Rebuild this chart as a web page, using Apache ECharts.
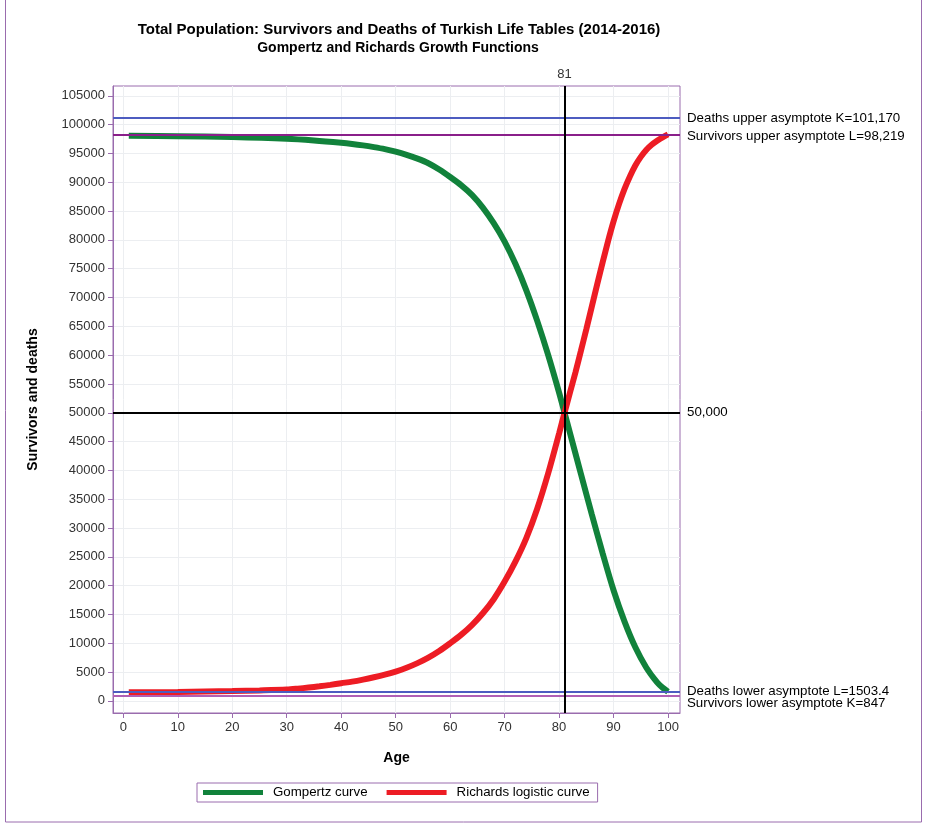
<!DOCTYPE html>
<html><head><meta charset="utf-8">
<script src="https://cdn.jsdelivr.net/npm/echarts@6/dist/echarts.min.js"></script>
<style>html,body{margin:0;padding:0;background:#fff}#c{width:925px;height:827px}</style>
</head><body><div id="c"></div>
<script>
const titleText = 'Total Population: Survivors and Deaths of Turkish Life Tables (2014-2016)';
const subtitleText = 'Gompertz and Richards Growth Functions';
const xTicks = [0,10,20,30,40,50,60,70,80,90,100];
const yTicks = [0,5000,10000,15000,20000,25000,30000,35000,40000,45000,50000,55000,60000,65000,70000,75000,80000,85000,90000,95000,100000,105000];

const gompertzAge = [1,10,20,30,35,40,42,44,46,48,50,52,54,56,58,60,62,64,66,68,70,72,74,76,78,80,81,82,84,86,88,90,92,94,96,98,99,100];
const gompertzVal = [98050,98000,97850,97550,97250,96850,96650,96400,96100,95750,95300,94750,94100,93300,92200,90900,89500,87800,85600,82900,79700,75800,71200,65900,60000,53500,50000,46500,39400,32400,25600,19200,13800,9300,5800,3200,2300,1600];

const richardsAge = [1,10,20,25,30,32,34,36,38,40,42,44,46,48,50,52,54,56,58,60,62,64,66,68,70,72,74,76,78,80,81,82,83,84,85,86,87,88,89,90,91,92,93,94,95,96,97,98,99,100];
const richardsVal = [1480,1550,1700,1810,1960,2120,2320,2530,2780,3070,3350,3700,4100,4550,5090,5750,6550,7500,8650,10000,11450,13150,15200,17650,20700,24200,28300,33400,39500,46400,50000,53500,57000,60700,64500,68400,72300,76100,79800,83200,86200,88800,91000,92900,94400,95600,96500,97200,97800,98300];

const refLines = [
  {value:101170, label:'Deaths upper asymptote K=101,170', color:'#4d5cc0', dy:0},
  {value:98219, label:'Survivors upper asymptote L=98,219', color:'#8a1f8a', dy:1},
  {value:1503.4, label:'Deaths lower asymptote L=1503.4', color:'#4d5cc0', dy:-1},
  {value:847, label:'Survivors lower asymptote K=847', color:'#b05fb5', dy:7},
  {value:50000, label:'50,000', color:'#000000', dy:0}
];
const refAge = 81;

const purple = '#9a6cae';
const font = '"Liberation Sans", Arial, sans-serif';
const chart = echarts.init(document.getElementById('c'), null, {renderer:'canvas'});

const pairs = (a,b)=>a.map((x,i)=>[x,b[i]]);

const markData = refLines.map(r=>({
  yAxis:r.value,
  lineStyle:{color:r.color,width:2, type:'solid'},
  label:{show:true, position:'end', formatter:r.label, color:'#000', fontSize:13.3, fontFamily:font, distance:7, offset:[0,r.dy]}
}));
markData.push({
  xAxis:refAge,
  lineStyle:{color:'#000',width:2,type:'solid'},
  label:{show:true, position:'end', formatter:String(refAge), color:'#333', fontSize:13, fontFamily:font, distance:5}
});

chart.setOption({
  animation:false,
  backgroundColor:'#fff',
  textStyle:{fontFamily:font},
  graphic:[
    {type:'rect', shape:{x:5.5,y:-2,width:916,height:824}, style:{fill:'none',stroke:purple,lineWidth:1}, silent:true, z:-1},
    {type:'text', x:399, y:22, style:{text:titleText, font:'bold 15px '+font, fill:'#000', textAlign:'center'}},
    {type:'text', x:398, y:41, style:{text:subtitleText, font:'bold 14px '+font, fill:'#000', textAlign:'center'}}
  ],
  grid:{left:113, right:245, top:86, bottom:114, show:true, borderColor:purple, borderWidth:1, containLabel:false},
  legend:{
    data:['Gompertz curve','Richards logistic curve'],
    left:197, top:783, itemWidth:60, itemHeight:5, itemGap:19, icon:'rect',
    borderColor:purple, borderWidth:1, padding:[3,8,3,6], borderRadius:0,
    textStyle:{fontSize:13.3, color:'#000', fontFamily:font, padding:[0,0,0,5]}
  },
  xAxis:{
    type:'value', min:-1.9, max:102.2,
    name:'Age', nameLocation:'middle', nameGap:38,
    nameTextStyle:{fontWeight:'bold', fontSize:14, color:'#000', fontFamily:font},
    axisLine:{show:true, onZero:false, lineStyle:{color:purple}},
    axisTick:{show:true, inside:false, length:5, customValues:xTicks, lineStyle:{color:purple}},
    axisLabel:{customValues:xTicks, color:'#333', fontSize:13, margin:8, fontFamily:font, formatter:v=>String(v)},
    splitLine:{show:true, lineStyle:{color:'#eceef1', width:1}}
  },
  yAxis:{
    type:'value', min:-2100, max:106700,
    name:'Survivors and deaths', nameLocation:'middle', nameGap:73, nameRotate:90,
    nameTextStyle:{fontWeight:'bold', fontSize:14, color:'#000', fontFamily:font},
    axisLine:{show:true, onZero:false, lineStyle:{color:purple}},
    axisTick:{show:true, inside:false, length:5, customValues:yTicks, lineStyle:{color:purple}},
    axisLabel:{customValues:yTicks, color:'#333', fontSize:13, margin:8, fontFamily:font, formatter:v=>String(v)},
    splitLine:{show:true, lineStyle:{color:'#eceef1', width:1}}
  },
  series:[
    {name:'refs', type:'line', data:[], silent:true,
      markLine:{silent:true, symbol:['none','none'], animation:false, data:markData}},
    {name:'Gompertz curve', type:'line', data:pairs(gompertzAge,gompertzVal), showSymbol:false, smooth:0.3,
      lineStyle:{color:'#11823b', width:6}, itemStyle:{color:'#11823b'}, z:3},
    {name:'Richards logistic curve', type:'line', data:pairs(richardsAge,richardsVal), showSymbol:false, smooth:0.3,
      lineStyle:{color:'#ed1c24', width:6}, itemStyle:{color:'#ed1c24'}, z:4}
  ]
});
</script></body></html>
